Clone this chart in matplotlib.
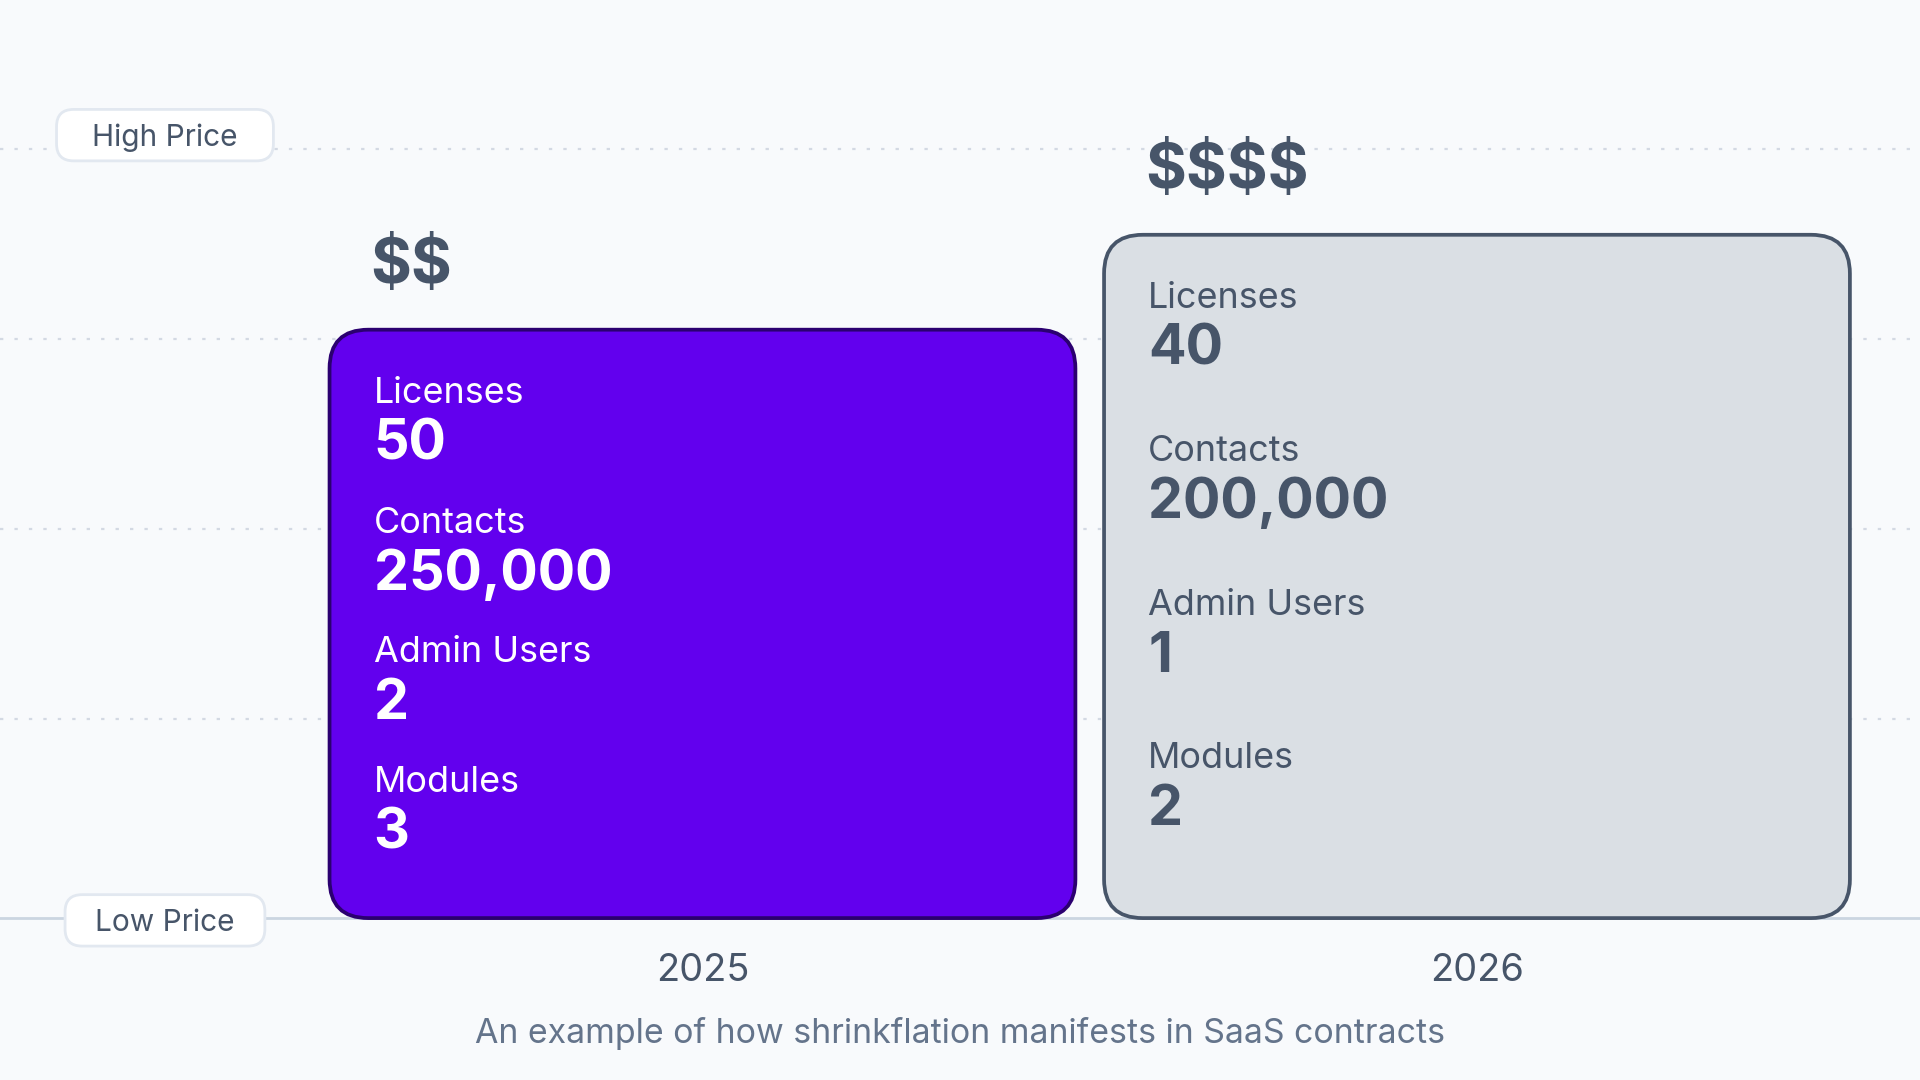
import matplotlib
matplotlib.use("Agg")
import matplotlib.pyplot as plt
from matplotlib.patches import FancyBboxPatch

plt.rcParams['font.family'] = ['Inter', 'DejaVu Sans']

# data
years = ["2025", "2026"]
price = [3.05, 3.55]          # relative price level (bar height)
price_tags = ["$$", "$$$$"]
metric_names = ["Licenses", "Contacts", "Admin Users", "Modules"]
metric_values = [
    ["50", "250,000", "2", "3"],
    ["40", "200,000", "1", "2"],
]
grid_levels = [1, 2, 3, 4]
base = -0.05
caption = "An example of how shrinkflation manifests in SaaS contracts"

fills = ["#6200ee", "#dadfe4"]
edges = ["#2b0070", "#475569"]
text_cols = ["white", "#475569"]
slate = "#475569"
bg = "#f8fafc"

fig = plt.figure(figsize=(19.2, 10.8), dpi=100)
fig.patch.set_facecolor(bg)
ax = fig.add_axes([0, 0, 1, 1])
ax.set_facecolor(bg)
ax.set_xlim(-0.907, 1.572)
ax.set_ylim(-0.903, 4.787)
ax.axis("off")

xu = 632.5 / 155.0  # px per x-unit over px per y-unit

# gridlines + baseline
for g in grid_levels:
    ax.axhline(g, color="#d3d9e3", lw=1.6, ls=(0, (1.5, 5)), zorder=1)
ax.axhline(base, color="#cbd5e1", lw=2, zorder=1)


def tag(y, label, w):
    cx, hh = -0.694, 0.271
    ax.add_patch(FancyBboxPatch((cx - w / 2, y - hh / 2), w, hh,
                                boxstyle="round,pad=0,rounding_size=0.022", mutation_aspect=xu,
                                fc="white", ec="#e2e8f0", lw=2, zorder=3))
    ax.text(cx, y - 0.016, label, fontsize=21.5, color=slate, ha="center", va="center", zorder=4)


tag(4.075, "High Price", 0.280)
tag(-0.062, "Low Price", 0.258)

width = 0.963
pad = 0.184
for i, yr in enumerate(years):
    left = i - width / 2
    h = price[i] - base
    box = FancyBboxPatch((left, base), width, h,
                         boxstyle="round,pad=0,rounding_size=0.05",
                         mutation_aspect=xu, fc=fills[i], ec=edges[i], lw=2.7, zorder=4)
    ax.add_patch(box)
    ax.text(left + 0.053, price[i] + 0.334, price_tags[i], fontsize=45, fontweight="bold",
            color=slate, ha="left", va="center", zorder=5, parse_math=False)
    row = (h - 2 * pad) / len(metric_names)
    for k, name in enumerate(metric_names):
        rtop = price[i] - pad - k * row
        ax.text(left + 0.057, rtop - 0.152, name, fontsize=25.9, color=text_cols[i],
                ha="left", va="center", zorder=5)
        ax.text(left + 0.057, rtop - 0.422, metric_values[i][k], fontsize=40, fontweight="bold",
                color=text_cols[i], ha="left", va="center", zorder=5)
    ax.text(i, -0.33, yr, fontsize=27.3, color=slate, ha="center", va="center", zorder=5)

ax.text(0.332, -0.658, caption, fontsize=24.4, color="#64748b", ha="center", va="center")

fig.savefig("out.png", dpi=100, facecolor=bg)
